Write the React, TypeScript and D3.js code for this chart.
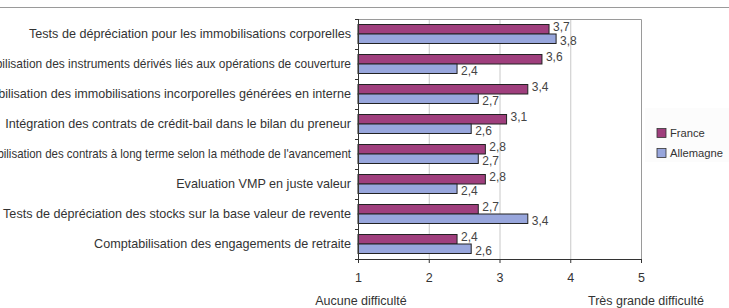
import React from "react";
import * as d3 from "d3";

const categories = [
  "Tests de dépréciation pour les immobilisations corporelles",
  "Comptabilisation des instruments dérivés liés aux opérations de couverture",
  "Comptabilisation des immobilisations incorporelles générées en interne",
  "Intégration des contrats de crédit-bail dans le bilan du preneur",
  "Comptabilisation des contrats à long terme selon la méthode de l'avancement",
  "Evaluation VMP en juste valeur",
  "Tests de dépréciation des stocks sur la base valeur de revente",
  "Comptabilisation des engagements de retraite",
];

const france = [3.7, 3.6, 3.4, 3.1, 2.8, 2.8, 2.7, 2.4];
const allemagne = [3.8, 2.4, 2.7, 2.6, 2.7, 2.4, 3.4, 2.6];

const seriesNames = ["France", "Allemagne"];
const xTicks = [1, 2, 3, 4, 5];
const axisLabels = ["Aucune difficulté", "Très grande difficulté"];

const width = 729;
const height = 308;
const plot = { left: 358, right: 641, top: 19, bottom: 259 };
const colors: Record<string, string> = { France: "#9f3f7d", Allemagne: "#98a6dc" };
const font = "'Liberation Sans', Arial, sans-serif";
const fmt = (v: number) => v.toFixed(1).replace(".", ",");

// long labels are squeezed horizontally a bit
const squeeze: Record<number, number> = { 1: 0.95, 4: 0.91 };

export default function App() {
  const x = d3.scaleLinear().domain([1, 5]).range([plot.left, plot.right]);
  const y = d3.scaleBand<number>().domain(d3.range(categories.length)).range([plot.top, plot.bottom]).padding(0);
  const sub = d3
    .scaleBand<string>()
    .domain(seriesNames)
    .range([0, y.bandwidth()])
    .paddingInner(0)
    .paddingOuter(0.58);

  const rows = categories.map((c, i) => ({ c, i, values: [france[i], allemagne[i]] }));

  return (
    <svg
      width={width}
      height={height}
      style={{ position: "absolute", left: 0, top: 0, background: "#fff" }}
      fontFamily={font}
    >
      <line x1={0} x2={width} y1={7.5} y2={7.5} stroke="#9a9a9a" strokeWidth={1.2} />

      {/* legend panel */}
      <rect x={645} y={108} width={84} height={54} fill="#fcfcfc" />

      {/* vertical grid */}
      {xTicks.slice(1, -1).map((t) => (
        <line key={t} x1={x(t) + 0.5} x2={x(t) + 0.5} y1={plot.top} y2={plot.bottom} stroke="#c8c8c8" />
      ))}
      {/* plot frame top + right */}
      <path
        d={`M${plot.left},${plot.top + 0.5}H${plot.right + 0.5}V${plot.bottom}`}
        fill="none"
        stroke="#9a9a9a"
      />

      {rows.map((r) => (
        <g key={r.i} transform={`translate(0,${y(r.i)})`}>
          {r.values.map((v, k) => {
            const s = seriesNames[k];
            const by = sub(s)!;
            const bh = sub.bandwidth();
            return (
              <g key={s}>
                <rect
                  x={x(1)}
                  y={by}
                  width={x(v) - x(1)}
                  height={bh}
                  fill={colors[s]}
                  stroke="#222"
                  strokeWidth={1}
                />
                <text
                  x={x(v) + 4}
                  y={by + bh / 2 + (k === 0 ? -2 : 2)}
                  dy="0.35em"
                  fontSize={12}
                  fill="#444"
                >
                  {fmt(v)}
                </text>
              </g>
            );
          })}
          <text
            x={351}
            y={y.bandwidth() / 2}
            dy="0.35em"
            textAnchor="end"
            fontSize={12.6}
            fill="#333"
            transform={squeeze[r.i] ? `translate(351,0) scale(${squeeze[r.i]},1) translate(-351,0)` : undefined}
          >
            {r.c}
          </text>
        </g>
      ))}

      {/* left axis with category ticks */}
      <line x1={plot.left + 0.5} x2={plot.left + 0.5} y1={plot.top} y2={plot.bottom} stroke="#333" />
      {d3.range(categories.length + 1).map((i) => {
        const ty = Math.round(plot.top + i * y.step()) + 0.5;
        return <line key={i} x1={plot.left - 3} x2={plot.left} y1={ty} y2={ty} stroke="#333" />;
      })}

      {/* bottom axis */}
      <line x1={plot.left} x2={plot.right + 1} y1={plot.bottom + 0.5} y2={plot.bottom + 0.5} stroke="#333" />
      {xTicks.map((t) => (
        <g key={t} transform={`translate(${x(t) + 0.5},0)`}>
          <line y1={plot.bottom} y2={plot.bottom + 4} stroke="#333" />
          <text y={278} dy="0.35em" textAnchor="middle" fontSize={12.5} fill="#333">
            {t}
          </text>
        </g>
      ))}
      <text x={x(1) + 3} y={301} dy="0.35em" textAnchor="middle" fontSize={12.5} fill="#333">
        {axisLabels[0]}
      </text>
      <text x={x(5) + 5} y={301} dy="0.35em" textAnchor="middle" fontSize={12.5} fill="#333">
        {axisLabels[1]}
      </text>

      {/* legend */}
      {seriesNames.map((s, k) => (
        <g key={s} transform={`translate(657,${133 + k * 20})`}>
          <rect x={0} y={-4.5} width={9} height={9} fill={colors[s]} stroke="#333" strokeWidth={0.8} />
          <text x={13} y={0} dy="0.35em" fontSize={11.2} fill="#333">
            {s}
          </text>
        </g>
      ))}
    </svg>
  );
}
